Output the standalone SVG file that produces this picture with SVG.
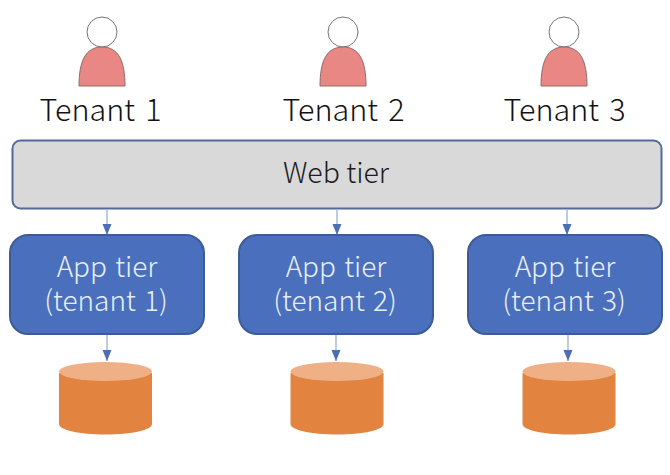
<svg xmlns="http://www.w3.org/2000/svg" width="670" height="475" viewBox="0 0 670 475">
<defs>
<marker id="ah" markerUnits="userSpaceOnUse" markerWidth="12" markerHeight="10" refX="11" refY="4.5" orient="auto"><path d="M0,0 L11,4.5 L0,9 Z" fill="#4a6fb5"/></marker>
<g id="person"><circle cx="0" cy="32" r="15" fill="#fff" stroke="#767676" stroke-width="1"/><path d="M-23,86 C-23,62 -17,47 0,47 C17,47 23,62 23,86 Z" fill="#e98785" stroke="#8f6a6a" stroke-width="1"/></g>
<g id="cyl"><path d="M-46.500,373 V424 C-46.500,430 -26,434.500 0,434.500 C26,434.500 46.500,430 46.500,424 V373 Z" fill="#e28340"/><ellipse cx="0" cy="371.500" rx="46.500" ry="9.500" fill="#eeb084"/></g>
</defs>
<style>
text{font-family:"Noto Sans CJK KR","Noto Sans",sans-serif;font-weight:300;text-anchor:middle}
.t{font-size:30.500px;word-spacing:3.500px;fill:#111}
.w{font-size:28.500px;fill:#1c1c1c}
.a{font-size:28px;word-spacing:2px;fill:#e8eef8}
.app{fill:#4a70bd;stroke:#3d5c96;stroke-width:2}
.c{stroke:#a9b9d8;stroke-width:1.500;fill:none;marker-end:url(#ah)}
</style>
<rect width="670" height="475" fill="#fff"/>
<g id="tenant1"><use href="#person" x="102"/><text class="t" x="100.500" y="121">Tenant 1</text></g>
<g id="tenant2"><use href="#person" x="343"/><text class="t" x="343.500" y="121">Tenant 2</text></g>
<g id="tenant3"><use href="#person" x="564"/><text class="t" x="564.500" y="121">Tenant 3</text></g>
<g id="web"><rect x="12.500" y="140.500" width="649" height="68" rx="8" fill="#d9d9d9" stroke="#54699a" stroke-width="2"/><text class="w" x="336" y="183">Web tier</text></g>
<g id="connectors">
<line class="c" x1="107" y1="209" x2="107" y2="235"/>
<line class="c" x1="337" y1="209" x2="337" y2="235"/>
<line class="c" x1="567" y1="209" x2="567" y2="235"/>
<line class="c" x1="107" y1="334" x2="107" y2="361"/>
<line class="c" x1="336" y1="334" x2="336" y2="361"/>
<line class="c" x1="568" y1="334" x2="568" y2="361"/>
</g>
<g id="app1"><rect class="app" x="10" y="235" width="194" height="99" rx="18"/><text class="a"><tspan x="107" y="277">App tier</tspan><tspan x="106" y="311">(tenant 1)</tspan></text></g>
<g id="app2"><rect class="app" x="239" y="235" width="194" height="99" rx="18"/><text class="a"><tspan x="336" y="277">App tier</tspan><tspan x="335" y="311">(tenant 2)</tspan></text></g>
<g id="app3"><rect class="app" x="468" y="235" width="194" height="99" rx="18"/><text class="a"><tspan x="565" y="277">App tier</tspan><tspan x="564" y="311">(tenant 3)</tspan></text></g>
<g id="db1"><use href="#cyl" x="105.500"/></g>
<g id="db2"><use href="#cyl" x="337"/></g>
<g id="db3"><use href="#cyl" x="569"/></g>
</svg>
